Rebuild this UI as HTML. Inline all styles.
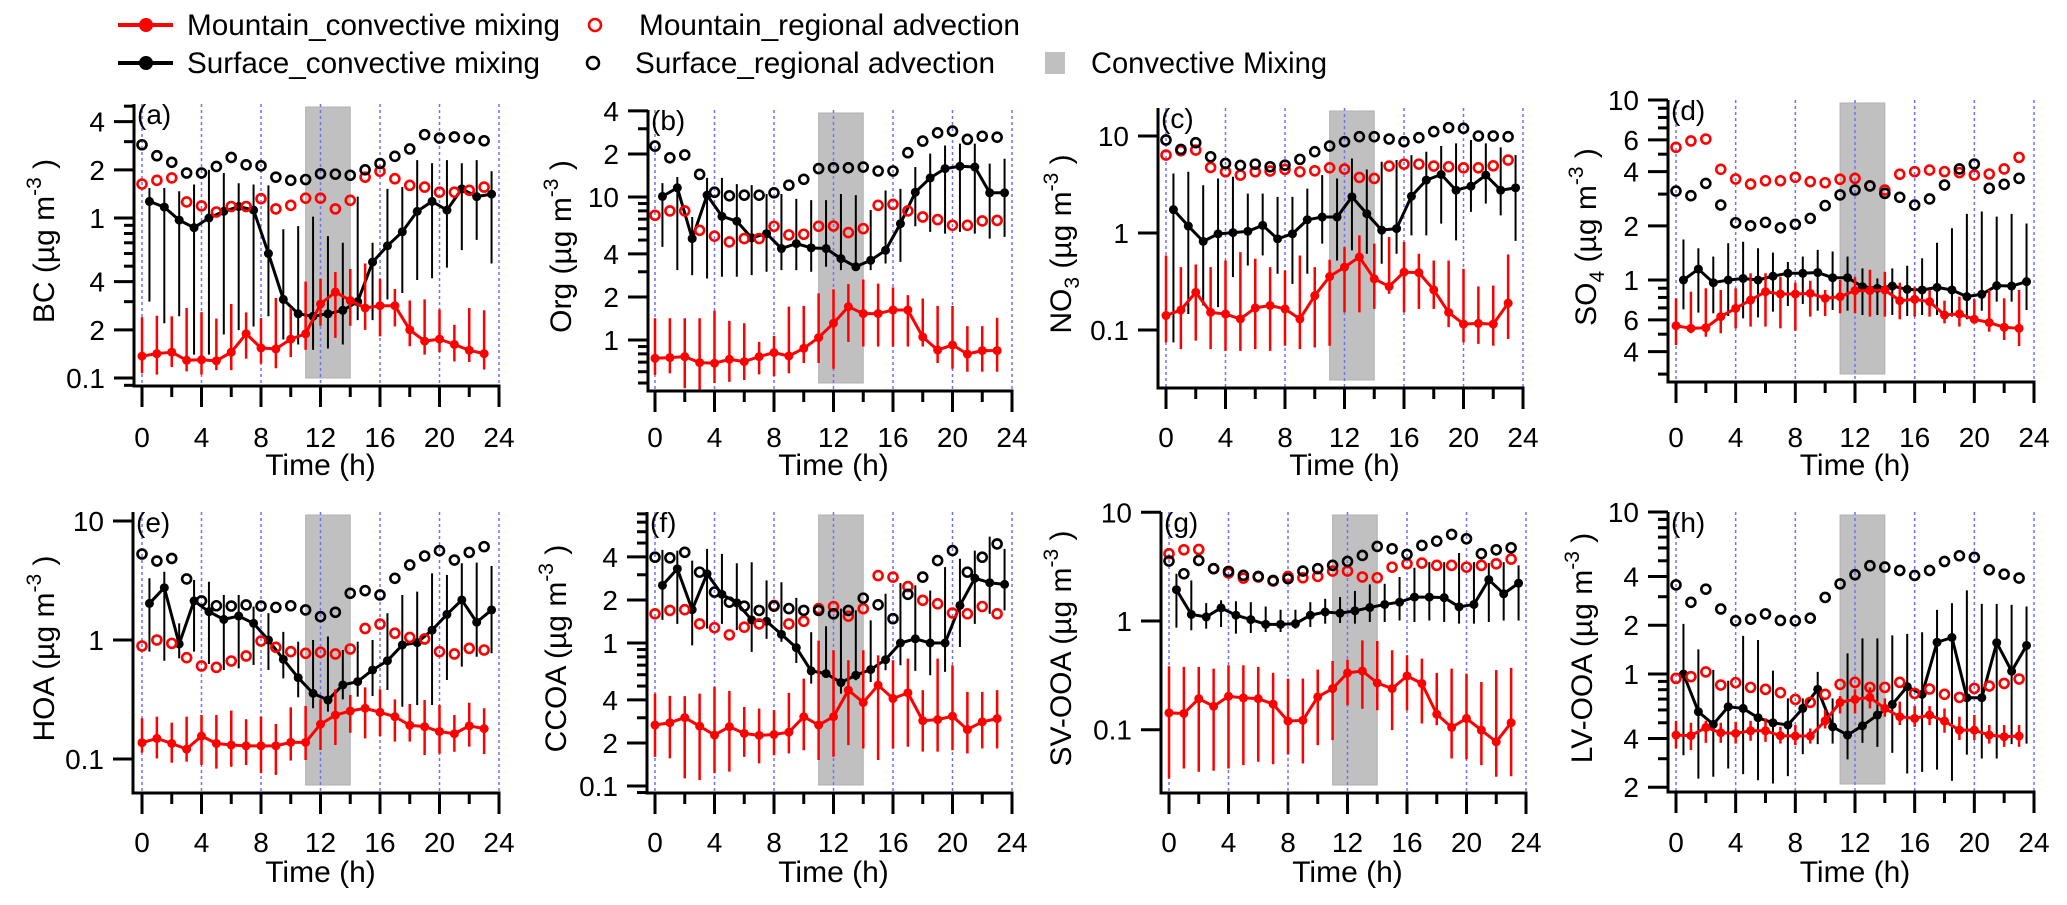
<!DOCTYPE html>
<html><head><meta charset="utf-8"><title>Diurnal cycles</title>
<style>
html,body{margin:0;padding:0;background:#fff;}
svg{display:block;font-family:"Liberation Sans",Arial,sans-serif;}
</style></head>
<body>
<svg id="chart" width="2067" height="905" viewBox="0 0 2067 905" xmlns="http://www.w3.org/2000/svg"></svg>
<script>
// ===== data =====
const hoursMtn=[0,1,2,3,4,5,6,7,8,9,10,11,12,13,14,15,16,17,18,19,20,21,22,23];
const hoursSurf=[0.5,1.5,2.5,3.5,4.5,5.5,6.5,7.5,8.5,9.5,10.5,11.5,12.5,13.5,14.5,15.5,16.5,17.5,18.5,19.5,20.5,21.5,22.5,23.5];
const xTickHours=[0,4,8,12,16,20,24];
const xTickLabels=["0","4","8","12","16","20","24"];
const mixStart=11, mixEnd=14;

const A_surfReg=[2.87,2.45,2.23,1.91,1.91,2.10,2.39,2.15,2.12,1.80,1.72,1.74,1.89,1.88,1.85,2.00,2.19,2.43,2.70,3.32,3.16,3.21,3.15,3.04];
const A_mtnReg=[1.63,1.72,1.78,1.26,1.19,1.09,1.18,1.18,1.32,1.14,1.20,1.33,1.33,1.14,1.29,1.80,1.96,1.76,1.60,1.56,1.45,1.45,1.49,1.56];
const A_surfMix=[1.27,1.17,0.97,0.87,1.0,1.10,1.18,1.12,0.60,0.31,0.252,0.243,0.252,0.265,0.30,0.53,0.67,0.82,1.10,1.27,1.12,1.52,1.36,1.41];
const A_surfHi=[1.54,1.54,1.47,1.62,2.0,1.91,1.65,1.62,1.6,0.85,0.89,1.02,0.77,0.70,1.36,0.70,1.52,1.56,2.3,2.2,2.3,2.2,2.3,1.96];
const A_surfLo=[0.30,0.22,0.243,0.14,0.14,0.187,0.199,0.21,0.243,0.174,0.162,0.15,0.153,0.162,0.23,0.23,0.31,0.34,0.41,0.42,0.49,0.63,0.73,0.52];
const A_mtnMix=[0.137,0.142,0.145,0.129,0.130,0.128,0.145,0.189,0.154,0.152,0.175,0.189,0.29,0.345,0.305,0.274,0.283,0.283,0.20,0.17,0.175,0.162,0.149,0.142];
const A_mtnHi=[0.24,0.245,0.243,0.274,0.258,0.235,0.29,0.257,0.237,0.316,0.274,0.40,0.416,0.46,0.48,0.52,0.416,0.36,0.305,0.31,0.268,0.215,0.274,0.265];
const A_mtnLo=[0.107,0.105,0.117,0.110,0.105,0.112,0.112,0.132,0.123,0.115,0.135,0.15,0.212,0.178,0.212,0.20,0.182,0.21,0.158,0.14,0.145,0.127,0.126,0.113];

const B_surfReg=[22.7,18.8,19.7,14.4,10.8,10.2,10.3,10.3,10.7,12.1,13.3,15.8,16.0,16.0,16.2,15.2,15.2,20.4,24.6,28.1,28.9,25.3,26.6,26.2];
const B_mtnReg=[7.45,7.99,7.99,5.85,5.32,4.85,5.12,5.12,6.24,5.43,5.49,6.24,6.27,5.64,6.01,8.75,8.89,7.99,7.25,6.95,6.34,6.34,6.80,6.86];
const B_surfMix=[10.1,11.6,5.12,10.3,7.33,6.77,5.18,5.55,4.36,4.72,4.41,4.36,3.71,3.25,3.61,4.24,6.51,10.8,13.6,15.8,16.4,16.2,10.7,10.7];
const B_surfHi=[12.5,13.8,7.25,13.6,13.6,12.3,12.1,10.5,10.5,9.7,9.5,9.5,10.5,10.3,8.1,11.1,11.4,16.2,20.1,22.9,23.6,23.6,17.1,18.5];
const B_surfLo=[4.48,3.08,2.84,2.69,2.77,2.77,2.84,3.0,3.08,3.08,3.0,3.25,3.08,3.08,3.08,3.43,3.52,6.24,5.70,5.55,5.70,5.55,5.12,5.26];
const B_mtnMix=[0.745,0.753,0.765,0.695,0.688,0.733,0.706,0.765,0.816,0.773,0.875,1.04,1.31,1.71,1.53,1.53,1.62,1.62,1.05,0.851,0.923,0.798,0.843,0.843];
const B_mtnHi=[1.42,1.42,1.42,1.42,1.60,1.36,1.31,0.97,1.07,1.71,1.73,2.12,2.26,2.46,2.65,2.48,2.33,2.06,1.95,1.73,1.73,1.25,1.25,1.43];
const B_mtnLo=[0.57,0.585,0.46,0.45,0.50,0.51,0.525,0.575,0.56,0.585,0.69,0.69,0.63,0.97,0.90,0.90,0.90,0.90,0.90,0.69,0.63,0.60,0.60,0.60];

const C_surfReg=[9.1,7.28,8.53,6.11,5.21,4.97,5.13,4.82,5.01,5.74,6.89,7.88,8.74,9.84,9.84,9.31,8.74,9.61,11.1,12.2,12.0,10.0,10.0,9.84];
const C_mtnReg=[6.36,7.05,7.16,4.74,4.28,3.95,4.28,4.35,4.52,4.28,4.38,4.70,4.56,3.74,3.65,4.9,5.13,5.13,4.9,4.82,4.70,4.70,4.93,5.65];
const C_surfMix=[1.74,1.18,0.82,0.98,1.01,1.04,1.2,0.87,0.98,1.37,1.46,1.46,2.36,1.58,1.07,1.11,2.39,3.51,4.01,2.76,3.04,3.95,2.76,2.92];
const C_surfHi=[4.11,4.28,3.11,3.65,3.80,2.55,2.55,2.36,2.36,2.87,3.95,3.65,5.87,4.52,5.43,5.65,6.36,6.89,7.88,8.4,9.1,8.4,7.63,6.36];
const C_surfLo=[0.0745,0.146,0.179,0.172,0.351,0.463,0.587,0.38,0.299,0.38,0.776,0.52,0.662,0.611,0.482,0.611,0.946,0.946,1.25,0.84,1.65,2.01,1.52,0.83];
const C_mtnMix=[0.141,0.161,0.245,0.152,0.146,0.130,0.169,0.179,0.165,0.130,0.226,0.356,0.445,0.565,0.337,0.281,0.395,0.39,0.259,0.152,0.115,0.117,0.115,0.189];
const C_mtnHi=[0.587,0.445,0.474,0.445,0.52,0.636,0.543,0.445,0.411,0.587,0.445,0.53,0.716,0.946,0.776,0.909,0.807,0.611,0.52,0.52,0.428,0.281,0.287,0.60];
const C_mtnLo=[0.0745,0.0636,0.0776,0.0636,0.061,0.061,0.0636,0.061,0.0689,0.0636,0.066,0.0689,0.152,0.152,0.165,0.236,0.152,0.165,0.165,0.107,0.0745,0.072,0.0689,0.0807];

const D_surfReg=[3.12,2.94,3.44,2.61,2.08,2.0,2.09,1.95,2.04,2.20,2.59,2.97,3.16,3.33,3.03,2.88,2.61,2.82,3.37,4.14,4.41,3.23,3.40,3.67];
const D_mtnReg=[5.46,5.92,6.07,4.12,3.64,3.41,3.56,3.56,3.72,3.52,3.47,3.63,3.67,3.33,3.16,3.87,4.0,4.08,4.0,3.95,3.83,3.88,4.14,4.80];
const D_surfMix=[1.0,1.15,0.966,1.0,1.02,1.0,1.05,1.09,1.09,1.10,1.03,1.03,0.918,0.899,0.926,0.887,0.88,0.91,0.88,0.808,0.833,0.93,0.926,0.979];
const D_surfHi=[1.68,1.50,1.35,1.60,1.63,1.50,1.42,1.26,1.35,1.47,1.44,1.35,1.16,1.02,1.16,1.20,1.32,1.61,1.94,2.33,2.40,2.25,2.33,2.06];
const D_surfLo=[0.687,0.659,0.653,0.631,0.612,0.62,0.667,0.717,0.736,0.675,0.681,0.675,0.639,0.639,0.639,0.631,0.639,0.639,0.626,0.605,0.675,0.758,0.758,0.681];
const D_mtnMix=[0.557,0.539,0.543,0.626,0.696,0.774,0.861,0.836,0.836,0.843,0.791,0.808,0.873,0.873,0.88,0.768,0.781,0.758,0.639,0.648,0.605,0.58,0.546,0.539];
const D_mtnHi=[0.791,0.861,0.899,0.88,0.899,1.09,1.09,1.04,0.966,0.99,0.88,1.0,1.04,1.14,1.11,0.966,0.918,0.88,0.768,0.808,0.781,0.88,0.791,0.88];
const D_mtnLo=[0.435,0.506,0.484,0.506,0.539,0.551,0.551,0.539,0.523,0.626,0.631,0.653,0.653,0.626,0.626,0.605,0.626,0.626,0.574,0.551,0.574,0.516,0.464,0.430];

const E_surfReg=[5.28,4.61,4.85,3.26,2.13,1.94,1.93,1.97,1.93,1.88,1.94,1.79,1.57,1.71,2.47,2.60,2.39,3.30,4.27,5.08,5.63,4.70,5.45,6.09];
const E_mtnReg=[0.89,1.0,0.937,0.71,0.605,0.589,0.666,0.734,0.98,0.868,0.798,0.773,0.788,0.763,0.84,1.25,1.36,1.14,1.05,1.02,0.798,0.763,0.851,0.824];
const E_surfMix=[2.03,2.75,0.926,2.13,1.73,1.49,1.59,1.38,1.0,0.688,0.482,0.356,0.313,0.419,0.447,0.56,0.67,0.908,0.95,1.21,1.64,2.17,1.41,1.79];
const E_surfHi=[3.30,3.75,1.38,3.19,3.09,2.39,2.39,1.91,1.68,1.17,0.968,1.0,1.07,0.824,0.968,1.0,1.68,2.39,2.55,3.63,3.52,4.41,4.47,4.19];
const E_surfLo=[0.798,0.67,0.701,0.798,0.628,0.56,0.578,0.617,0.56,0.476,0.33,0.267,0.25,0.317,0.334,0.338,0.38,0.275,0.284,0.284,0.461,0.597,0.724,0.773];
const E_mtnMix=[0.137,0.149,0.135,0.121,0.156,0.135,0.131,0.129,0.129,0.129,0.138,0.138,0.196,0.234,0.253,0.267,0.247,0.227,0.192,0.187,0.17,0.163,0.19,0.18];
const E_mtnHi=[0.22,0.227,0.202,0.227,0.234,0.234,0.255,0.216,0.227,0.197,0.272,0.279,0.317,0.385,0.345,0.4,0.385,0.317,0.29,0.313,0.284,0.234,0.297,0.267];
const E_mtnLo=[0.113,0.101,0.093,0.095,0.089,0.083,0.086,0.089,0.076,0.0735,0.097,0.098,0.119,0.131,0.166,0.149,0.156,0.14,0.14,0.108,0.111,0.115,0.127,0.11];

const F_surfReg=[3.98,3.94,4.31,3.13,2.27,1.93,1.81,1.69,1.81,1.74,1.69,1.69,1.60,1.69,2.06,1.85,1.48,2.19,2.89,3.77,4.43,3.13,3.98,4.93];
const F_mtnReg=[1.60,1.69,1.71,1.36,1.28,1.14,1.29,1.36,1.83,1.36,1.42,1.74,1.80,1.54,1.74,2.96,2.89,2.48,1.99,1.88,1.62,1.60,1.80,1.60];
const F_surfMix=[2.53,3.30,1.71,3.05,2.19,1.91,1.45,1.42,1.15,0.928,0.638,0.611,0.529,0.595,0.652,0.765,1.0,1.07,1.0,1.0,1.83,2.84,2.64,2.57];
const F_surfHi=[4.48,4.43,3.77,4.55,4.2,3.61,3.67,2.74,2.66,2.07,1.19,1.31,1.74,1.69,1.44,2.21,2.62,2.53,2.33,3.39,3.88,4.43,5.55,4.55];
const F_surfLo=[1.45,1.36,0.963,1.26,1.36,1.23,0.866,1.07,1.02,0.725,0.52,0.595,0.443,0.549,0.534,0.645,0.699,0.638,0.595,0.628,0.938,1.36,1.60,1.69];
const F_mtnMix=[0.267,0.277,0.301,0.262,0.227,0.26,0.233,0.226,0.229,0.238,0.305,0.267,0.305,0.468,0.384,0.507,0.409,0.448,0.286,0.291,0.308,0.248,0.281,0.296];
const F_mtnHi=[0.443,0.427,0.425,0.443,0.493,0.462,0.357,0.348,0.339,0.448,0.564,1.04,0.889,0.757,0.889,0.82,0.757,0.778,0.468,0.778,0.699,0.455,0.455,0.468];
const F_mtnLo=[0.16,0.156,0.113,0.11,0.123,0.126,0.16,0.144,0.164,0.169,0.178,0.152,0.16,0.193,0.183,0.152,0.183,0.188,0.174,0.174,0.178,0.169,0.183,0.183];

const G_surfReg=[3.56,2.72,3.61,3.03,2.86,2.63,2.57,2.36,2.45,2.88,3.03,3.25,3.53,4.01,4.85,4.62,4.1,4.96,5.43,6.26,5.71,4.16,4.52,4.72];
const G_mtnReg=[4.16,4.52,4.55,3.03,2.76,2.48,2.54,2.33,2.57,2.50,2.57,2.88,2.88,2.54,2.5,3.13,3.36,3.41,3.25,3.25,3.13,3.25,3.36,3.71];
const G_surfMix=[1.94,1.15,1.09,1.32,1.13,1.03,0.932,0.932,0.945,1.13,1.21,1.18,1.24,1.33,1.42,1.49,1.66,1.66,1.64,1.35,1.42,2.40,1.78,2.23];
const G_surfHi=[2.72,2.36,1.46,1.55,1.52,1.49,1.36,1.27,1.27,1.49,1.60,1.66,1.89,2.17,2.2,2.54,3.09,3.48,3.48,4.22,3.48,3.41,3.48,3.25];
const G_surfLo=[0.868,0.821,0.85,0.881,0.765,0.776,0.792,0.792,0.85,0.881,0.945,0.958,0.945,0.979,0.979,1.01,0.979,1.01,0.979,0.945,0.945,0.979,1.01,1.01];
const G_mtnMix=[0.143,0.141,0.193,0.164,0.203,0.196,0.193,0.172,0.12,0.122,0.2,0.239,0.333,0.347,0.269,0.239,0.312,0.266,0.139,0.105,0.127,0.099,0.0773,0.116];
const G_mtnHi=[0.383,0.378,0.378,0.365,0.392,0.392,0.378,0.333,0.295,0.295,0.357,0.429,0.441,0.664,0.655,0.538,0.484,0.451,0.333,0.365,0.328,0.275,0.353,0.37];
const G_mtnLo=[0.0356,0.044,0.041,0.0419,0.044,0.0472,0.0507,0.0481,0.0596,0.0489,0.0721,0.0801,0.168,0.156,0.151,0.099,0.151,0.114,0.11,0.0544,0.0535,0.0472,0.0369,0.0373];

const H_surfReg=[3.55,2.77,3.34,2.52,2.13,2.18,2.35,2.14,2.13,2.21,2.97,3.60,4.10,4.66,4.57,4.36,4.06,4.36,4.95,5.37,5.25,4.40,4.13,3.91];
const H_mtnReg=[0.94,0.963,1.03,0.855,0.884,0.827,0.804,0.767,0.697,0.668,0.749,0.863,0.888,0.827,0.827,0.888,0.759,0.808,0.749,0.717,0.815,0.843,0.875,0.931];
const H_surfMix=[1.0,0.585,0.489,0.628,0.613,0.537,0.5,0.484,0.613,0.804,0.472,0.42,0.479,0.558,0.649,0.835,0.749,1.57,1.68,0.714,0.714,1.56,1.04,1.5];
const H_surfHi=[2.04,1.42,1.06,0.909,1.72,1.62,1.05,0.707,0.707,1.03,0.707,1.34,1.66,1.66,1.73,1.77,1.81,2.49,2.74,3.28,2.71,2.71,2.67,2.61];
const H_surfLo=[0.315,0.226,0.232,0.261,0.241,0.221,0.211,0.234,0.32,0.369,0.372,0.297,0.376,0.355,0.326,0.243,0.249,0.257,0.219,0.318,0.301,0.301,0.369,0.372];
const H_mtnMix=[0.42,0.416,0.468,0.434,0.43,0.446,0.446,0.416,0.414,0.414,0.514,0.668,0.697,0.717,0.613,0.545,0.532,0.558,0.512,0.45,0.45,0.42,0.41,0.414];
const H_mtnHi=[0.514,0.5,0.514,0.5,0.507,0.514,0.532,0.472,0.484,0.461,0.599,0.731,0.804,0.827,0.707,0.675,0.634,0.634,0.613,0.545,0.558,0.484,0.484,0.484];
const H_mtnLo=[0.347,0.339,0.376,0.376,0.372,0.387,0.381,0.372,0.364,0.372,0.461,0.571,0.571,0.613,0.545,0.484,0.472,0.484,0.434,0.391,0.391,0.372,0.355,0.355];

const A_yTicks=[0.1,0.2,0.4,1,2,4];   const A_yLabels=["0.1","2","4","1","2","4"];
const B_yTicks=[1,2,4,10,20,40];      const B_yLabels=["1","2","4","10","2","4"];
const C_yTicks=[0.1,1,10];            const C_yLabels=["0.1","1","10"];
const D_yTicks=[0.4,0.6,1,2,4,6,10];  const D_yLabels=["4","6","1","2","4","6","10"];
const E_yTicks=[0.1,1,10];            const E_yLabels=["0.1","1","10"];
const F_yTicks=[0.1,0.2,0.4,1,2,4];   const F_yLabels=["0.1","2","4","1","2","4"];
const G_yTicks=[0.1,1,10];            const G_yLabels=["0.1","1","10"];
const H_yTicks=[0.2,0.4,1,2,4,10];    const H_yLabels=["2","4","1","2","4","10"];

// ===== layout =====
const panels=[
 {id:"a",sp:"BC",sub:"",ax:134,x0:142,x24:499,y1:218,dec:160,top:104,bot:386,tx:54,minor:true,row:0,
  d:[A_surfReg,A_mtnReg,A_surfMix,A_surfHi,A_surfLo,A_mtnMix,A_mtnHi,A_mtnLo],yt:A_yTicks,yl:A_yLabels},
 {id:"b",sp:"Org",sub:"",ax:648,x0:655,x24:1012,y1:340,dec:143,top:110,bot:391,tx:571,minor:true,row:0,
  d:[B_surfReg,B_mtnReg,B_surfMix,B_surfHi,B_surfLo,B_mtnMix,B_mtnHi,B_mtnLo],yt:B_yTicks,yl:B_yLabels},
 {id:"c",sp:"NO",sub:"3",ax:1158,x0:1166,x24:1523,y1:233,dec:97,top:108,bot:388,tx:1071,minor:false,row:0,
  d:[C_surfReg,C_mtnReg,C_surfMix,C_surfHi,C_surfLo,C_mtnMix,C_mtnHi,C_mtnLo],yt:C_yTicks,yl:C_yLabels},
 {id:"d",sp:"SO",sub:"4",ax:1668,x0:1676,x24:2034,y1:280,dec:180,top:100,bot:382,tx:1596,minor:true,row:0,
  d:[D_surfReg,D_mtnReg,D_surfMix,D_surfHi,D_surfLo,D_mtnMix,D_mtnHi,D_mtnLo],yt:D_yTicks,yl:D_yLabels},
 {id:"e",sp:"HOA",sub:"",ax:133,x0:142,x24:499,y1:640,dec:119,top:512,bot:793,tx:54,minor:false,row:1,
  d:[E_surfReg,E_mtnReg,E_surfMix,E_surfHi,E_surfLo,E_mtnMix,E_mtnHi,E_mtnLo],yt:E_yTicks,yl:E_yLabels},
 {id:"f",sp:"CCOA",sub:"",ax:647,x0:655,x24:1012,y1:643,dec:143,top:512,bot:793,tx:566,minor:true,row:1,
  d:[F_surfReg,F_mtnReg,F_surfMix,F_surfHi,F_surfLo,F_mtnMix,F_mtnHi,F_mtnLo],yt:F_yTicks,yl:F_yLabels},
 {id:"g",sp:"SV-OOA",sub:"",ax:1161,x0:1169,x24:1526,y1:621,dec:108.7,top:512,bot:793,tx:1071,minor:false,row:1,
  d:[G_surfReg,G_mtnReg,G_surfMix,G_surfHi,G_surfLo,G_mtnMix,G_mtnHi,G_mtnLo],yt:G_yTicks,yl:G_yLabels},
 {id:"h",sp:"LV-OOA",sub:"",ax:1668,x0:1676,x24:2034,y1:674,dec:162,top:512,bot:792,tx:1592,minor:true,row:1,
  d:[H_surfReg,H_mtnReg,H_surfMix,H_surfHi,H_surfLo,H_mtnMix,H_mtnHi,H_mtnLo],yt:H_yTicks,yl:H_yLabels}
];

const NS="http://www.w3.org/2000/svg";
const svg=document.getElementById("chart");
function mk(tag,attrs,parent){const e=document.createElementNS(NS,tag);for(const k in attrs)e.setAttribute(k,attrs[k]);(parent||svg).appendChild(e);return e;}
function txt(s,attrs,parent){const e=mk("text",attrs,parent);e.textContent=s;return e;}

const RED="#ff0000";

// ===== legend =====
const leg=mk("g",{});


function legLine(y,color,name){
  const g=mk("g",{},leg);
  
  
  mk("line",{x1:118,y1:y,x2:173,y2:y,stroke:color,"stroke-width":4},g);
  mk("circle",{cx:146,cy:y,r:7,fill:color},g);
  return g;
}
let g1=legLine(25,RED,"legend-mountain-convective-marker");
let t=txt("Mountain_convective mixing",{x:187,y:35,"font-size":30,textLength:373,lengthAdjust:"spacingAndGlyphs"},leg);


let c=mk("circle",{cx:595,cy:25,r:6,fill:"none",stroke:RED,"stroke-width":2.5},leg);


t=txt("Mountain_regional advection",{x:639,y:35,"font-size":30,textLength:381,lengthAdjust:"spacingAndGlyphs"},leg);


legLine(63,"#000","legend-surface-convective-marker");
t=txt("Surface_convective mixing",{x:187,y:73,"font-size":30,textLength:353,lengthAdjust:"spacingAndGlyphs"},leg);


c=mk("circle",{cx:593,cy:63,r:6,fill:"none",stroke:"#000","stroke-width":2.5},leg);


t=txt("Surface_regional advection",{x:635,y:73,"font-size":30,textLength:360,lengthAdjust:"spacingAndGlyphs"},leg);


let r=mk("rect",{x:1045,y:52,width:20,height:22,fill:"#c0c0c0"},leg);


t=txt("Convective Mixing",{x:1091,y:73,"font-size":30,textLength:236,lengthAdjust:"spacingAndGlyphs"},leg);



// ===== panels =====
panels.forEach(p=>{
  const X=h=>p.x0+(p.x24-p.x0)*h/24;
  const Y=v=>p.y1-p.dec*Math.log10(v);
  const vMin=Math.pow(10,(p.y1-p.bot)/p.dec), vMax=Math.pow(10,(p.y1-p.top)/p.dec);
  const [surfReg,mtnReg,surfMix,surfHi,surfLo,mtnMix,mtnHi,mtnLo]=p.d;
  const g=mk("g",{});
  
  

  const band=mk("rect",{x:X(mixStart),y:p.top+3,width:X(mixEnd)-X(mixStart),height:p.bot-8-(p.top+3),fill:"#c0c0c0",stroke:"#b0b0b0","stroke-width":1},g);
  
  

  xTickHours.forEach(h=>{
    const l=mk("line",{x1:X(h),y1:p.top,x2:X(h),y2:p.bot,stroke:"#7070ff","stroke-width":1.5,"stroke-dasharray":"3,3"},g);
    
    
  });

  // axes
  const ya=mk("line",{x1:p.ax,y1:p.top,x2:p.ax,y2:p.bot+1.5,stroke:"#000","stroke-width":3},g);
  
  
  const xa=mk("line",{x1:p.ax-1.5,y1:p.bot,x2:p.x24+1.5,y2:p.bot,stroke:"#000","stroke-width":3},g);
  
  

  // x ticks
  for(let h=0;h<=24;h+=2){
    const major=(h%4===0);
    const tk=mk("line",{x1:X(h),y1:p.bot,x2:X(h),y2:p.bot+(major?21:11),stroke:"#000","stroke-width":3},g);
    
    
  }
  const lblY=p.row===0?447:852;
  xTickLabels.forEach((s,i)=>{
    const tl=txt(s,{x:X(xTickHours[i]),y:lblY,"font-size":28,"text-anchor":"middle"},g);
    
    
  });
  const xt=txt("Time (h)",{x:(p.x0+p.x24)/2,y:p.row===0?475:882,"font-size":30,"text-anchor":"middle"},g);
  
  

  // y ticks
  if(p.minor){
    for(let e=-2;e<=2;e++){
      for(let m=1;m<=9;m++){
        const v=m*Math.pow(10,e);
        if(v<vMin*0.999||v>vMax*1.001) continue;
        if(p.yt.some(q=>Math.abs(q-v)/v<1e-6)) continue;
        const mt=mk("line",{x1:p.ax-10,y1:Y(v),x2:p.ax,y2:Y(v),stroke:"#000","stroke-width":3},g);
        
        
      }
    }
  }
  p.yt.forEach((v,i)=>{
    const tk=mk("line",{x1:p.ax-20,y1:Y(v),x2:p.ax,y2:Y(v),stroke:"#000","stroke-width":3},g);
    
    
    const tl=txt(p.yl[i],{x:p.ax-29,y:Y(v)+10,"font-size":28,"text-anchor":"end"},g);
    
    
  });

  // y title
  const cy=(p.top+p.bot)/2-4;
  const yt=mk("text",{x:p.tx,y:cy,"font-size":30,"text-anchor":"middle",transform:`rotate(-90 ${p.tx} ${cy})`},g);
  
  
  let s0=document.createElementNS(NS,"tspan");s0.textContent=p.sp;yt.appendChild(s0);
  if(p.sub){let s=mk("tspan",{dy:8,"font-size":21},yt);s.textContent=p.sub;let s2=mk("tspan",{dy:-8},yt);s2.textContent=" (\u00b5g m";}
  else{let s=mk("tspan",{},yt);s.textContent=" (\u00b5g m";}
  let sup=mk("tspan",{dy:-13,"font-size":21},yt);sup.textContent="-3";
  let cl=mk("tspan",{dy:13},yt);cl.textContent=" )";

  const pl=txt("("+p.id+")",{x:p.ax+3,y:p.top+20,"font-size":28},g);
  
  

  // surface convective mixing (black)
  hoursSurf.forEach((h,i)=>{
    const e=mk("line",{x1:X(h),y1:Y(surfHi[i]),x2:X(h),y2:Y(surfLo[i]),stroke:"#000","stroke-width":2},g);
    
    
  });
  const sp=mk("polyline",{points:hoursSurf.map((h,i)=>X(h)+","+Y(surfMix[i])).join(" "),fill:"none",stroke:"#000","stroke-width":3,"stroke-linejoin":"round"},g);
  
  
  hoursSurf.forEach((h,i)=>{
    const m=mk("circle",{cx:X(h),cy:Y(surfMix[i]),r:4.5,fill:"#000"},g);
    
    
  });

  // mountain convective mixing (red)
  hoursMtn.forEach((h,i)=>{
    const e=mk("line",{x1:X(h),y1:Y(mtnHi[i]),x2:X(h),y2:Y(mtnLo[i]),stroke:RED,"stroke-width":2.5},g);
    
    
  });
  const mp=mk("polyline",{points:hoursMtn.map((h,i)=>X(h)+","+Y(mtnMix[i])).join(" "),fill:"none",stroke:RED,"stroke-width":3,"stroke-linejoin":"round"},g);
  
  
  hoursMtn.forEach((h,i)=>{
    const m=mk("circle",{cx:X(h),cy:Y(mtnMix[i]),r:4.5,fill:RED},g);
    
    
  });

  // regional advection open circles
  hoursMtn.forEach((h,i)=>{
    const m=mk("circle",{cx:X(h),cy:Y(mtnReg[i]),r:4.5,fill:"none",stroke:RED,"stroke-width":2.6},g);
    
    
  });
  hoursMtn.forEach((h,i)=>{
    const m=mk("circle",{cx:X(h),cy:Y(surfReg[i]),r:4.5,fill:"none",stroke:"#000","stroke-width":2.6},g);
    
    
  });
});
</script>
</body></html>
